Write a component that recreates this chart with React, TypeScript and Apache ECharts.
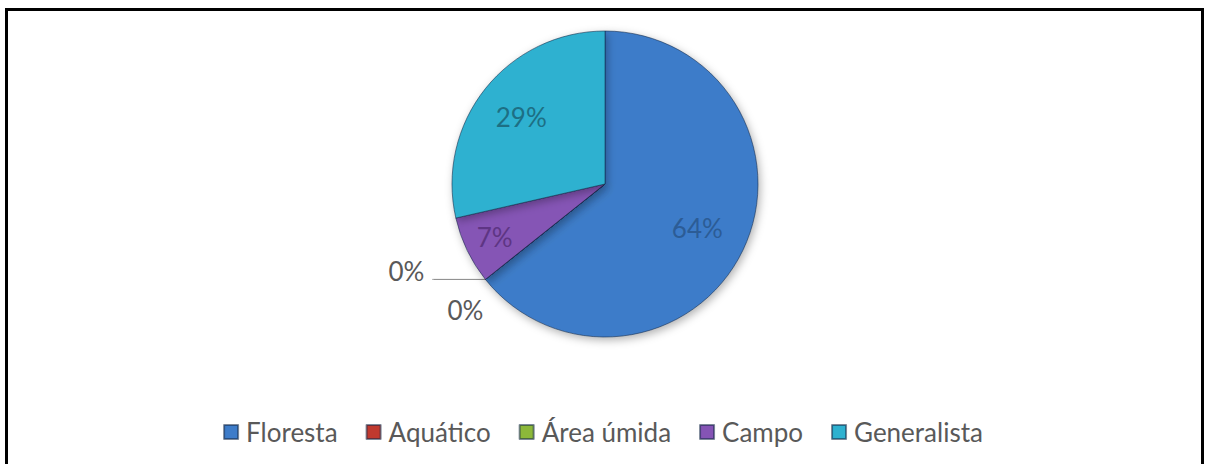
import React, { useEffect, useRef } from "react";
import * as echarts from "echarts";

const categories = ["Floresta", "Aquático", "Área úmida", "Campo", "Generalista"];
const values = [18, 0, 0, 2, 8];
const colors = ["#3d7cc9", "#c0392f", "#8cb83a", "#8554b5", "#2eb1d0"];
const labelColors = ["#2c5c96", "#595959", "#595959", "#5e3584", "#1d6f84"];

const CX = 605;
const CY = 184;
const R = 153;
const insideFactor = [0.67, 0, 0, 0.8, 0.7];

export default function App() {
  const ref = useRef<HTMLDivElement>(null);
  useEffect(() => {
    if (!ref.current) return;
    const chart = echarts.init(ref.current, undefined, { renderer: "svg" });
    const total = values.reduce((a, b) => a + b, 0);
    let cum = 0;
    const mids = values.map((v) => {
      const a0 = cum;
      cum += v;
      return ((a0 + v / 2) / total) * Math.PI * 2;
    });
    const font = "Lato, 'Open Sans', sans-serif";
    chart.setOption({
      animation: false,
      legend: {
        top: 414,
        left: "center",
        icon: "rect",
        itemWidth: 14,
        itemHeight: 14,
        itemGap: 28,
        textStyle: { fontSize: 26, color: "#595959", fontFamily: font, padding: [0, 0, 0, 3] },
        data: categories,
      },
      series: [
        {
          type: "pie",
          center: [CX, CY],
          radius: R,
          startAngle: 90,
          clockwise: true,
          avoidLabelOverlap: false,
          itemStyle: {
            borderColor: "rgba(20,40,70,0.55)",
            borderWidth: 1,
            shadowColor: "rgba(0,0,0,0.3)",
            shadowBlur: 8,
            shadowOffsetX: 2,
            shadowOffsetY: 3,
          },
          label: {
            show: true,
            position: "outside",
            fontSize: 26,
            fontFamily: font,
            formatter: (p: any) => Math.round(p.percent) + "%",
          },
          labelLine: { show: false },
          labelLayout: (p: any) => {
            const i = p.dataIndex;
            const m = mids[i];
            if (values[i] === 0) {
              const ex = CX + R * Math.sin(m);
              const ey = CY - R * Math.cos(m);
              if (i === 1) {
                return {
                  x: ex - 61,
                  y: ey - 8,
                  align: "right",
                  verticalAlign: "middle",
                  labelLinePoints: [
                    [ex, ey],
                    [ex - 52, ey],
                    [ex - 53, ey],
                  ],
                };
              }
              return { x: ex - 20, y: ey + 31, align: "center", verticalAlign: "middle" };
            }
            const f = insideFactor[i];
            return {
              x: CX + f * R * Math.sin(m),
              y: CY - f * R * Math.cos(m),
              align: "center",
              verticalAlign: "middle",
            };
          },
          data: categories.map((name, i) => ({
            name,
            value: values[i],
            itemStyle: { color: colors[i] },
            label: { color: labelColors[i] },
            labelLine:
              i === 1
                ? { show: true, lineStyle: { color: "#868686", width: 1 } }
                : { show: false },
          })),
        },
      ],
    });
    return () => chart.dispose();
  }, []);
  return (
    <div style={{ position: "fixed", left: 0, top: 0, width: 1206, height: 464, background: "#fff" }}>
      <div
        style={{
          position: "absolute",
          left: 5,
          top: 8,
          width: 1199,
          height: 470,
          border: "3px solid #000",
          boxSizing: "border-box",
        }}
      />
      <div ref={ref} style={{ position: "absolute", left: 0, top: 0, width: 1206, height: 464 }} />
    </div>
  );
}
